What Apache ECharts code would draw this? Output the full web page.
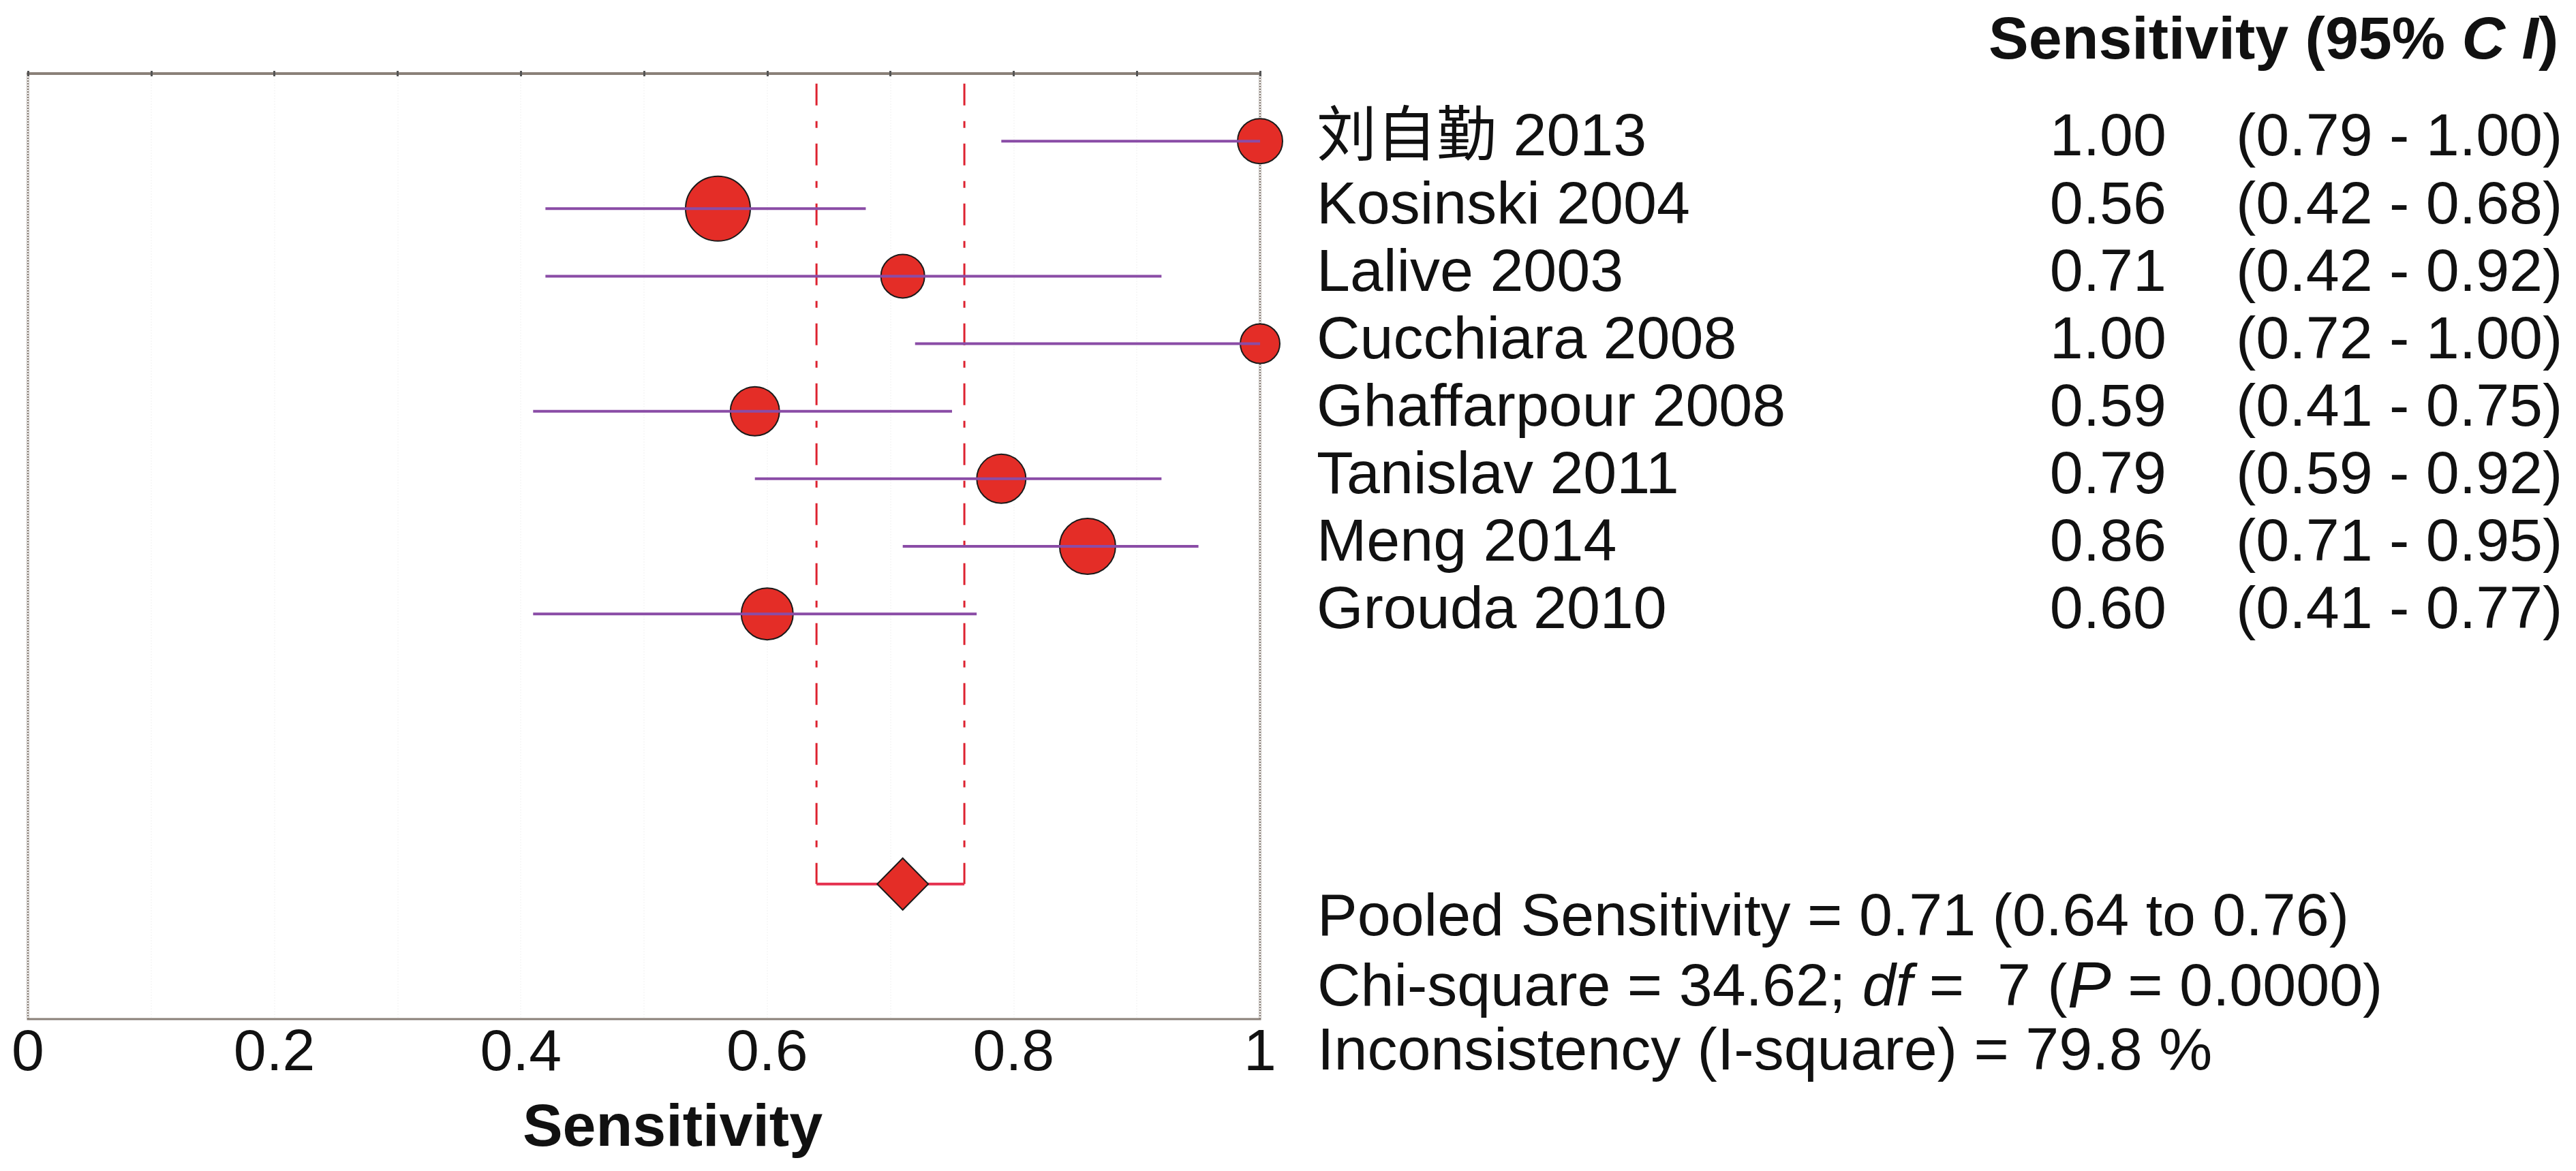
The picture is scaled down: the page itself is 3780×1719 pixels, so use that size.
<!DOCTYPE html>
<html>
<head>
<meta charset="utf-8">
<script src="https://cdn.jsdelivr.net/npm/echarts@6/dist/echarts.min.js"></script>
<style>
html,body{margin:0;padding:0;background:#fff;}
#chart{width:3780px;height:1719px;}
</style>
</head>
<body>
<div id="chart"></div>
<script>
// ---- data ----
const studies = ['刘自勤 2013','Kosinski 2004','Lalive 2003','Cucchiara 2008','Ghaffarpour 2008','Tanislav 2011','Meng 2014','Grouda 2010'];
const sensitivity = [1.00, 0.56, 0.71, 1.00, 0.59, 0.79, 0.86, 0.60];
const ciLow = [0.79, 0.42, 0.42, 0.72, 0.41, 0.59, 0.71, 0.41];
const ciHigh = [1.00, 0.68, 0.92, 1.00, 0.75, 0.92, 0.95, 0.77];
const markerSize = [66, 95, 64, 58, 72, 72, 82, 76];
const pooledEstimate = [0.71];
const pooledLow = [0.64];
const pooledHigh = [0.76];
const chiSquare = [34.62];
const degreesFreedom = [7];
const pValue = ['0.0000'];
const iSquare = [79.8];
const xTickLabels = ['0', '0.2', '0.4', '0.6', '0.8', '1'];

// ---- layout ----
const FONT = '"Liberation Sans", Arial, "Noto Sans CJK SC", sans-serif';
const FS = 84;     // tick labels
const FT = 88;     // row / stats text
const FB = 88;     // bold titles
const pooledRow = 12;
const rows = studies.map((s, i) => i + 1);

const chart = echarts.init(document.getElementById('chart'), null, {renderer: 'canvas'});

function rowText(params, api) {
  const i = params.dataIndex;
  const c = api.coord([1, rows[i]]);
  const y = c[1] - 3;
  const base = {fill: '#111', fontSize: FT, fontFamily: FONT, verticalAlign: 'middle'};
  return {
    type: 'group',
    children: [
      {type: 'text', x: c[0] + 83, y: y, style: Object.assign({}, base, {text: studies[i], align: 'left'})},
      {type: 'text', x: c[0] + 1330, y: y, style: Object.assign({}, base, {text: sensitivity[i].toFixed(2), align: 'right'})},
      {type: 'text', x: c[0] + 1432, y: y, style: Object.assign({}, base, {text: '(' + ciLow[i].toFixed(2) + ' - ' + ciHigh[i].toFixed(2) + ')', align: 'left'})}
    ]
  };
}

const statsX = 1933;
const option = {
  backgroundColor: '#fff',
  animation: false,
  grid: {left: 41, top: 108, width: 1808, height: 1388, show: true, borderColor: '#8a8078', borderWidth: 3, containLabel: false},
  xAxis: [{
    type: 'value', min: 0, max: 1, interval: 0.1, position: 'bottom',
    axisLine: {show: true, lineStyle: {color: '#8a8078', width: 4}},
    axisTick: {show: true, inside: true, length: 4, lineStyle: {color: '#555', width: 3}},
    splitLine: {show: true, lineStyle: {color: '#f8f8f8', width: 2, type: 'dotted'}},
    axisLabel: {
      show: true, margin: 8, color: '#111', fontSize: FS + 2, fontFamily: FONT,
      showMinLabel: true, showMaxLabel: true,
      formatter: function (v) {
        const k = Math.round(v * 10);
        return k % 2 === 0 ? xTickLabels[k / 2] : '';
      }
    },
    name: 'Sensitivity', nameLocation: 'middle', nameGap: 118,
    nameTextStyle: {color: '#111', fontSize: FB, fontWeight: 'bold', fontFamily: FONT, padding: [0, 0, 0, 84]}
  }, {
    type: 'value', min: 0, max: 1, interval: 0.1, position: 'top',
    axisLine: {show: true, lineStyle: {color: '#8a8078', width: 4}},
    axisTick: {show: true, inside: true, length: 4, lineStyle: {color: '#555', width: 3}},
    axisLabel: {show: false}, splitLine: {show: false}
  }],
  yAxis: {
    type: 'value', min: 0, max: 14, inverse: true,
    axisLine: {show: false}, axisTick: {show: false}, axisLabel: {show: false}, splitLine: {show: false}
  },
  series: [
    {
      type: 'custom', z: 1,
      encode: {x: [0, 1], y: 2},
      data: [[pooledLow[0], pooledHigh[0], pooledRow]],
      renderItem: function (params, api) {
        const lo = api.value(0), hi = api.value(1), r = api.value(2);
        const a0 = api.coord([lo, 0.15]), a1 = api.coord([lo, r]);
        const b0 = api.coord([hi, 0.15]), b1 = api.coord([hi, r]);
        const dash = {stroke: '#dd2230', lineWidth: 3, lineDash: [32, 23, 10, 23]};
        return {type: 'group', children: [
          {type: 'line', shape: {x1: a0[0], y1: a0[1], x2: a1[0], y2: a1[1]}, style: dash},
          {type: 'line', shape: {x1: b0[0], y1: b0[1], x2: b1[0], y2: b1[1]}, style: dash},
          {type: 'line', shape: {x1: a1[0], y1: a1[1], x2: b1[0], y2: b1[1]}, style: {stroke: '#e5304e', lineWidth: 4}}
        ]};
      }
    },
    {
      type: 'scatter', z: 3,
      data: sensitivity.map((v, i) => [v, rows[i]]),
      symbol: 'circle',
      symbolSize: function (val, params) { return markerSize[params.dataIndex]; },
      itemStyle: {color: '#e42d27', borderColor: '#1a1a1a', borderWidth: 2, opacity: 1},
      clip: false
    },
    {
      type: 'custom', z: 4,
      encode: {x: [0, 1], y: 2},
      data: ciLow.map((v, i) => [v, ciHigh[i], rows[i]]),
      renderItem: function (params, api) {
        const r = api.value(2);
        const p1 = api.coord([api.value(0), r]);
        const p2 = api.coord([api.value(1), r]);
        return {type: 'line', shape: {x1: p1[0], y1: p1[1], x2: p2[0], y2: p2[1]}, style: {stroke: '#8a4ca6', lineWidth: 4}};
      }
    },
    {
      type: 'scatter', z: 5,
      data: [[pooledEstimate[0], pooledRow]],
      symbol: 'diamond', symbolSize: [75, 76],
      itemStyle: {color: '#e42d27', borderColor: '#1a1a1a', borderWidth: 2, opacity: 1},
      clip: false
    },
    {
      type: 'custom', z: 6,
      encode: {x: 0, y: 1},
      data: rows.map(r => [1, r]),
      renderItem: rowText
    }
  ],
  graphic: [
    {type: 'text', left: 2918, top: 18, style: {
      text: '{b|Sensitivity (95% }{bi|C I}{b|)}',
      rich: {
        b: {fontSize: FB, fontWeight: 'bold', fontFamily: FONT, fill: '#111'},
        bi: {fontSize: FB, fontWeight: 'bold', fontStyle: 'italic', fontFamily: FONT, fill: '#111'}
      }
    }},
    {type: 'text', x: statsX, y: 1349, style: {
      text: 'Pooled Sensitivity = ' + pooledEstimate[0].toFixed(2) + ' (' + pooledLow[0].toFixed(2) + ' to ' + pooledHigh[0].toFixed(2) + ')',
      fontSize: FT, fontFamily: FONT, fill: '#111', verticalAlign: 'middle', align: 'left'
    }},
    {type: 'text', x: statsX, y: 1452, style: {
      text: '{n|Chi-square = ' + chiSquare[0].toFixed(2) + '; }{i|df}{n| =  ' + degreesFreedom[0] + ' (}{p|P}{n| = ' + pValue[0] + ')}',
      verticalAlign: 'middle', align: 'left',
      rich: {
        n: {fontSize: FT, fontFamily: FONT, fill: '#111'},
        i: {fontSize: FT, fontStyle: 'italic', fontFamily: FONT, fill: '#111'},
        p: {fontSize: FT + 8, fontStyle: 'italic', fontFamily: FONT, fill: '#111'}
      }
    }},
    {type: 'text', x: statsX, y: 1546, style: {
      text: 'Inconsistency (I-square) = ' + iSquare[0].toFixed(1) + ' %',
      fontSize: FT, fontFamily: FONT, fill: '#111', verticalAlign: 'middle', align: 'left'
    }}
  ]
};
chart.setOption(option);
</script>
</body>
</html>
